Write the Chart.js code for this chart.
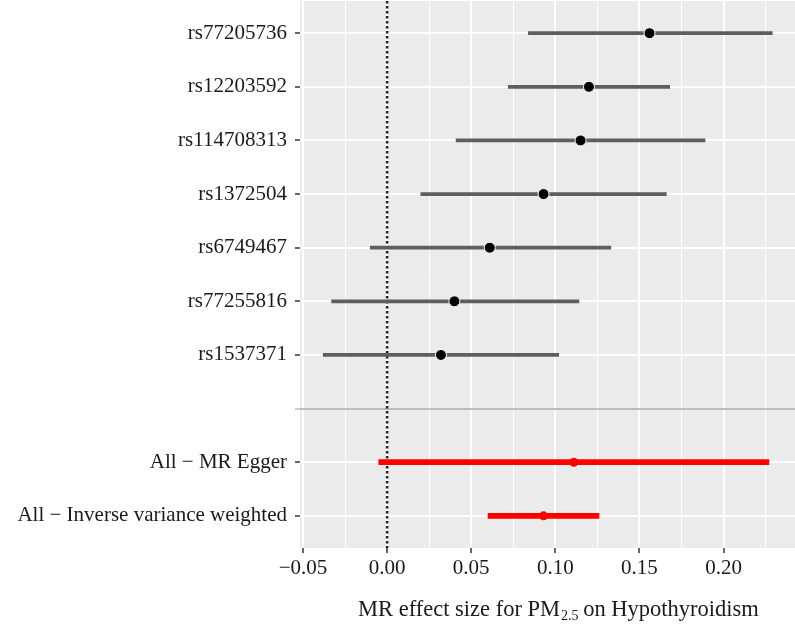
<!DOCTYPE html>
<html>
<head>
<meta charset="utf-8">
<script src="https://cdn.jsdelivr.net/npm/chart.js@4"></script>
<style>
  body { margin: 0; background: #fff; }
  #wrap { width: 795px; height: 626px; }
</style>
</head>
<body>
<div id="wrap"><canvas id="forest"></canvas></div>
<script>
// values
const snpLabels = ['rs77205736', 'rs12203592', 'rs114708313', 'rs1372504', 'rs6749467', 'rs77255816', 'rs1537371'];
const snpEst  = [0.156, 0.120, 0.115, 0.093, 0.061, 0.040, 0.032];
const snpLow  = [0.084, 0.072, 0.041, 0.020, -0.010, -0.033, -0.038];
const snpHigh = [0.229, 0.168, 0.189, 0.166, 0.133, 0.114, 0.102];

const summaryLabels = ['All \u2212 MR Egger', 'All \u2212 Inverse variance weighted'];
const summaryEst  = [0.111, 0.093];
const summaryLow  = [-0.005, 0.060];
const summaryHigh = [0.227, 0.126];

const xMajor = [-0.05, 0, 0.05, 0.10, 0.15, 0.20];
const xTickLabels = ['\u22120.05', '0.00', '0.05', '0.10', '0.15', '0.20'];
const xMinor = [-0.025, 0.025, 0.075, 0.125, 0.175, 0.225];

// rows top to bottom: SNPs, an empty separator row, then the summary methods
const rowLabels = snpLabels.concat([''], summaryLabels);
const sepRow = snpLabels.length;
const summaryRow0 = sepRow + 1;

const serif = "'Liberation Serif', 'Times New Roman', serif";
const isMajor = v => xMajor.some(m => Math.abs(m - v) < 1e-9);
const tickVal = ctx => (ctx && ctx.tick) ? ctx.tick.value : NaN;

const panelBg = {
  id: 'panelBg',
  beforeDraw(chart) {
    const a = chart.chartArea, c = chart.ctx;
    c.save();
    c.fillStyle = '#EBEBEB';
    c.fillRect(a.left, a.top, a.right - a.left, a.bottom - a.top);
    c.restore();
  }
};

// x title with PM2.5 subscript
const xTitle = {
  id: 'xTitle',
  afterDraw(chart) {
    const a = chart.chartArea, c = chart.ctx;
    const big = '22.5px ' + serif, small = '14px ' + serif;
    const p1 = 'MR effect size for PM', sub = '2.5', p2 = ' on Hypothyroidism';
    c.save();
    c.fillStyle = '#1a1a1a';
    c.textBaseline = 'alphabetic';
    c.font = big;
    const w1 = c.measureText(p1).width, w3 = c.measureText(p2).width;
    c.font = small;
    const w2 = c.measureText(sub).width;
    let x = 358;
    const y = 616;
    c.font = big; c.fillText(p1, x, y); x += w1 + 1;
    c.font = small; c.fillText(sub, x, y + 4); x += w2;
    c.font = big; c.fillText(p2, x - 1, y);
    c.restore();
  }
};

const snpBars = snpLabels.map((_, i) => ({ x: [snpLow[i], snpHigh[i]], y: i }));
const sumBars = summaryLabels.map((_, i) => ({ x: [summaryLow[i], summaryHigh[i]], y: summaryRow0 + i }));
const snpPts = snpLabels.map((_, i) => ({ x: snpEst[i], y: i }));
const sumPts = summaryLabels.map((_, i) => ({ x: summaryEst[i], y: summaryRow0 + i }));

new Chart(document.getElementById('forest'), {
  type: 'bar',
  data: {
    datasets: [
      {
        type: 'scatter', data: sumPts, order: 0,
        backgroundColor: '#FF0000', borderColor: '#FF0000', pointRadius: 4.5, borderWidth: 0
      },
      {
        type: 'scatter', data: snpPts, order: 1,
        backgroundColor: '#000', borderColor: '#fff', pointRadius: 5.5, borderWidth: 1
      },
      {
        type: 'bar', indexAxis: 'y', data: sumBars, order: 2, grouped: false,
        backgroundColor: '#FF0000', barThickness: 5, borderWidth: 0
      },
      {
        type: 'bar', indexAxis: 'y', data: snpBars, order: 3, grouped: false,
        backgroundColor: '#5e5e5e', barThickness: 3, borderWidth: 0
      },
      {
        // null effect reference line
        type: 'line', data: [{ x: 0, y: -0.6 }, { x: 0, y: rowLabels.length - 0.4 }], order: 4,
        borderColor: '#222', borderWidth: 2.5, borderDash: [2.5, 2.5], pointRadius: 0
      }
    ]
  },
  options: {
    responsive: true,
    maintainAspectRatio: false,
    animation: false,
    layout: { autoPadding: false, padding: { top: 1, right: 0, bottom: 0, left: 0 } },
    plugins: { legend: { display: false }, tooltip: { enabled: false } },
    scales: {
      x: {
        type: 'linear', min: -0.0518, max: 0.2425, offset: false,
        afterBuildTicks: s => { s.ticks = xMajor.concat(xMinor).sort((a, b) => a - b).map(v => ({ value: v })); },
        afterFit: s => { s.height = 78; s.paddingLeft = 0; s.paddingRight = 0; },
        border: { display: false },
        grid: {
          offset: false,
          color: '#fff',
          lineWidth: ctx => isMajor(tickVal(ctx)) ? 2 : 1,
          tickColor: ctx => isMajor(tickVal(ctx)) ? '#333' : 'rgba(0,0,0,0)',
          tickLength: 5,
          tickWidth: 1.5
        },
        ticks: {
          autoSkip: false, maxRotation: 0, padding: 3,
          color: '#1a1a1a', font: { family: serif, size: 21 },
          callback: v => { const k = xMajor.findIndex(m => Math.abs(m - v) < 1e-9); return k < 0 ? '' : xTickLabels[k]; }
        }
      },
      y: {
        type: 'linear', reverse: true, min: -0.6, max: rowLabels.length - 0.4, offset: false,
        afterBuildTicks: s => { s.ticks = rowLabels.map((_, i) => ({ value: i })); },
        afterFit: s => { s.width = 300; s.paddingTop = 0; s.paddingBottom = 0; },
        border: { display: false },
        grid: {
          offset: false,
          color: ctx => tickVal(ctx) === sepRow ? '#bdbdbd' : '#fff',
          lineWidth: 2,
          tickColor: ctx => tickVal(ctx) === sepRow ? '#bdbdbd' : '#333',
          tickLength: 5,
          tickWidth: 1.5
        },
        ticks: {
          autoSkip: false, padding: 8,
          color: '#1a1a1a', font: { family: serif, size: 21 },
          callback: v => rowLabels[v]
        }
      }
    }
  },
  plugins: [panelBg, xTitle]
});
</script>
</body>
</html>
